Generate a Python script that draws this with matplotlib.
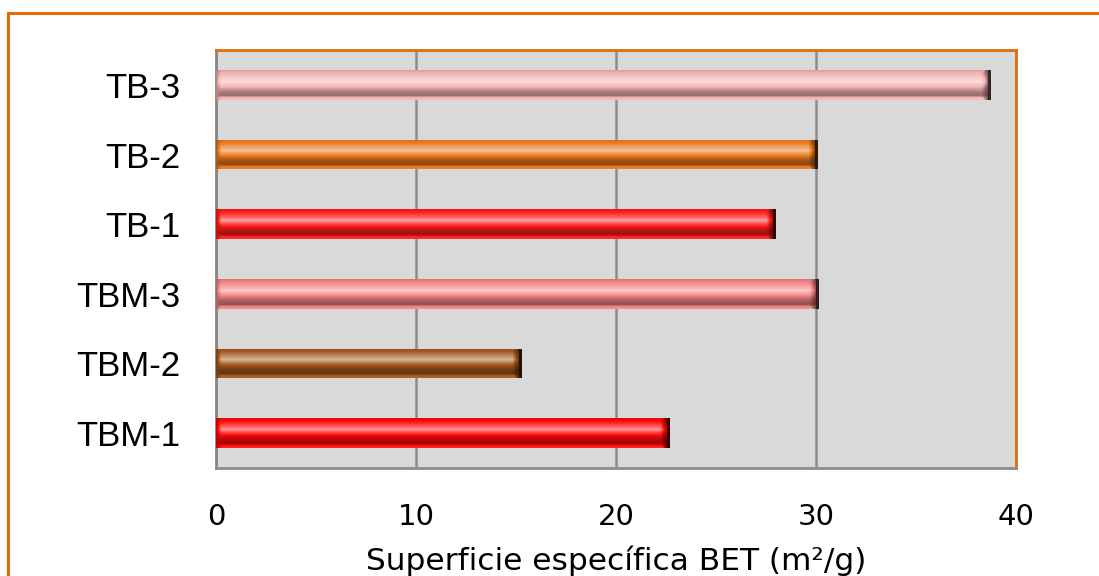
import numpy as np
import matplotlib.pyplot as plt
from matplotlib.colors import to_rgb
from matplotlib.patches import Rectangle

# BET specific surface per sample
samples = ["TBM-1", "TBM-2", "TBM-3", "TB-1", "TB-2", "TB-3"]
bet_area = [22.7, 15.3, 30.15, 28.0, 30.1, 38.75]
bar_colors = ["#ff0a0a", "#a4561c", "#f08482", "#ff1c1c", "#e8761a", "#f4b4b2"]

xticks = [0, 10, 20, 30, 40]
xlabel = "Superficie específica BET (m²/g)"

orange = "#e36c0a"


def shade(rgb, v):
    # v > 0 mixes toward white, v < 0 toward black
    rgb = np.asarray(rgb)
    if v >= 0:
        return rgb + (1 - rgb) * v
    return rgb * (1 + v)


# vertical light profile of the bevelled bar (top -> bottom)
prof_pos = [0.0, 0.12, 0.25, 0.38, 0.5, 0.62, 0.75, 0.86, 0.93, 1.0]
prof_val = [-0.1, 0.05, 0.3, 0.55, 0.2, -0.12, -0.32, -0.38, 0.0, 0.1]


def bevel_image(color, width_px, height_px=30, cap=9, lcap=5):
    base = to_rgb(color)
    rows = np.linspace(0, 1, height_px)
    light = np.interp(rows, prof_pos, prof_val)
    img = np.zeros((height_px, width_px, 3))
    for j in range(width_px):
        d_right = width_px - 1 - j
        for i in range(height_px):
            v = light[i]
            edge = min(i, height_px - 1 - i)
            if d_right < cap and d_right < cap - max(0, 3 - edge):
                k = 1 - d_right / cap
                v = v * (1 - k) - 0.75 * k
                if d_right < 3:
                    v = -0.78
            elif j < lcap:
                v = v * (j / lcap) - 0.25 * (1 - j / lcap)
            img[i, j] = np.clip(shade(base, v), 0, 1)
    return img


fig = plt.figure(figsize=(10.99, 5.76), dpi=100)
ax = fig.add_axes([216 / 1099, 108 / 576, 800 / 1099, 418 / 576])
ax.set_facecolor("#d9d9d9")

ypos = np.arange(len(samples))
bars = ax.barh(ypos, bet_area, height=0.43, color=bar_colors, zorder=2)

# paint a shaded image over each bar for the bevel look
for p, c in zip(bars.patches, bar_colors):
    x0, y0, w, h = p.get_x(), p.get_y(), p.get_width(), p.get_height()
    img = bevel_image(c, max(int(w * 20), 10))
    im = ax.imshow(img, extent=(x0, x0 + w, y0, y0 + h), origin="upper",
                   aspect="auto", interpolation="nearest", zorder=3)
    im.set_clip_path(p)

ax.set_xlim(0, 40)
ax.set_ylim(-0.5, len(samples) - 0.5)
ax.set_xticks(xticks)
ax.set_yticks(ypos)
ax.set_yticklabels(samples, fontsize=25, family="Liberation Sans")
ax.set_xticklabels([str(t) for t in xticks], fontsize=21, family="DejaVu Sans")
ax.tick_params(axis="y", length=0, pad=26)
ax.tick_params(axis="x", length=0, pad=25)
ax.xaxis.grid(True, color="#8c8c8c", linewidth=1.8, zorder=1)
ax.set_axisbelow(True)
ax.set_xlabel(xlabel, fontsize=22.5, family="DejaVu Sans", labelpad=11)

ax.spines["left"].set_color("#8c8680")
ax.spines["bottom"].set_color("#8c8c8c")
ax.spines["top"].set_color(orange)
ax.spines["right"].set_color(orange)
for s in ax.spines.values():
    s.set_linewidth(2)

# chart area border
fig.patches.append(Rectangle((8 / 1099, -0.2), 1.2, 1.2 - 13 / 576,
                             transform=fig.transFigure, fill=False,
                             edgecolor=orange, linewidth=2.2))

fig.savefig("out.png", dpi=100)
